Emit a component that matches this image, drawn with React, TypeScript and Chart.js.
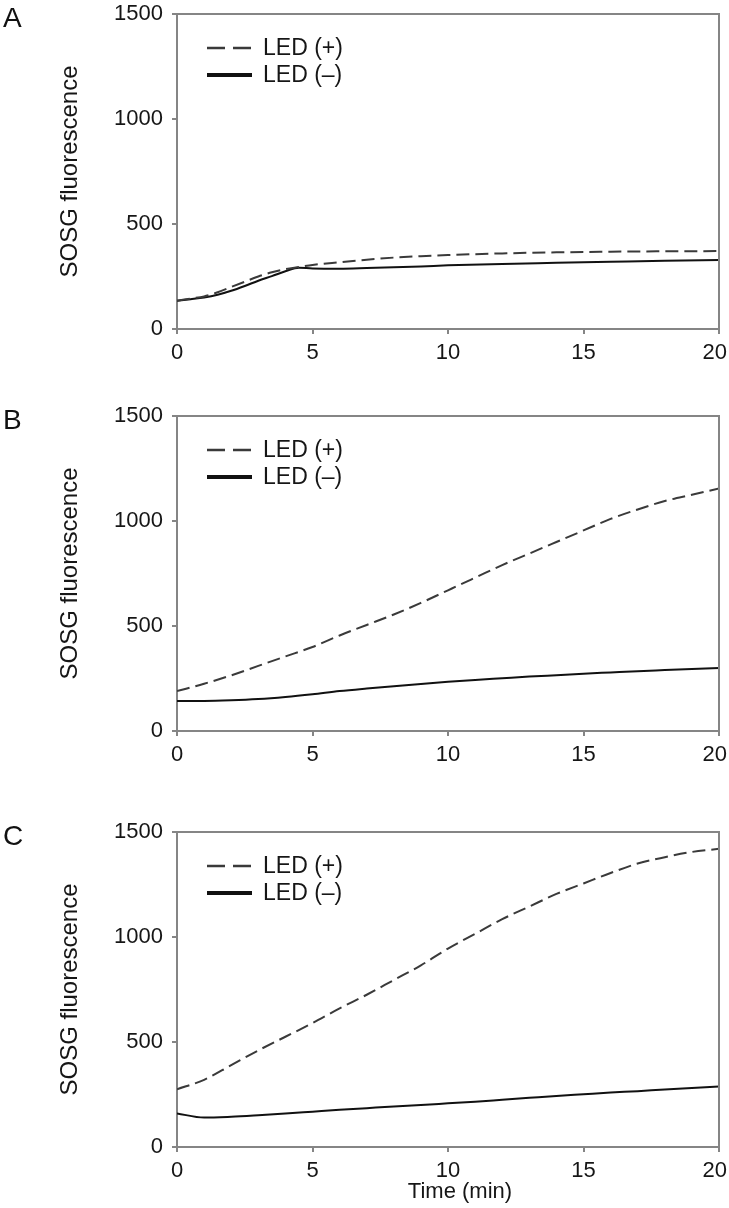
import React, { useEffect, useRef } from "react";
import { Chart, registerables } from "chart.js";

Chart.register(...registerables);

// ---------- data ----------
const TIME_A = [0, 0.5, 1, 1.5, 2, 2.5, 3, 3.5, 4, 4.5, 5, 6, 7, 8, 9, 10, 12, 14, 16, 18, 20];
const A_LED_PLUS = [135, 145, 155, 175, 200, 225, 250, 270, 285, 295, 305, 318, 330, 340, 347, 352, 360, 365, 368, 370, 371];
const A_LED_MINUS = [135, 142, 150, 163, 182, 205, 230, 252, 275, 292, 288, 287, 290, 294, 298, 303, 310, 315, 320, 325, 329];

const TIME_BC = [0, 1, 2, 3, 4, 5, 6, 7, 8, 9, 10, 11, 12, 13, 14, 15, 16, 17, 18, 19, 20];
const B_LED_PLUS = [190, 225, 265, 310, 355, 400, 455, 505, 555, 610, 670, 730, 790, 845, 900, 955, 1010, 1055, 1095, 1125, 1155];
const B_LED_MINUS = [143, 143, 146, 152, 162, 175, 190, 202, 213, 224, 234, 243, 251, 259, 266, 273, 279, 285, 290, 295, 300];
const C_LED_PLUS = [275, 320, 390, 460, 525, 590, 660, 725, 795, 865, 945, 1015, 1085, 1145, 1205, 1255, 1305, 1350, 1380, 1405, 1420];
const C_LED_MINUS = [160, 140, 144, 151, 159, 168, 177, 185, 193, 200, 208, 216, 225, 234, 243, 251, 259, 266, 274, 281, 288];

const SERIES_LABELS = ["LED (+)", "LED (\u2013)"];
const PANEL_LETTERS = ["A", "B", "C"];
const Y_TICKS = [0, 500, 1000, 1500];
const X_TICKS = [0, 5, 10, 15, 20];
const Y_TITLE = "SOSG fluorescence";
const X_TITLE = "Time (min)";

const FONT = '"Liberation Sans", Arial, Helvetica, sans-serif';
const TEXT = "#161616";
const AXIS = "#858585";

const pairs = (xs: number[], ys: number[]) => xs.map((x, i) => ({ x, y: ys[i] }));

const zeroPad = (s: any) => {
  s.paddingLeft = 0;
  s.paddingRight = 0;
  s.paddingTop = 0;
  s.paddingBottom = 0;
};

const framePlugin = {
  id: "frame",
  afterDraw(chart: any, _args: any, opts: any) {
    const { ctx } = chart;
    const { left, top, right, bottom } = chart.chartArea;
    const W = chart.width;
    ctx.save();
    // top & right borders
    ctx.strokeStyle = AXIS;
    ctx.lineWidth = 2;
    ctx.setLineDash([]);
    ctx.beginPath();
    ctx.moveTo(left, top);
    ctx.lineTo(right, top);
    ctx.lineTo(right, bottom);
    ctx.stroke();
    // x tick labels, placed by the x scale, kept inside the canvas
    const xs = chart.scales.x;
    ctx.fillStyle = TEXT;
    ctx.font = `22px ${FONT}`;
    ctx.textAlign = "center";
    ctx.textBaseline = "middle";
    xs.ticks.forEach((t: any) => {
      const label = String(t.value);
      const w = ctx.measureText(label).width;
      let cx = xs.getPixelForValue(t.value);
      if (cx + w / 2 > W - 2) cx = W - 2 - w / 2;
      ctx.fillText(label, cx, bottom + 24);
    });
    // panel letter
    ctx.fillStyle = "#111";
    ctx.font = `28px ${FONT}`;
    ctx.textAlign = "left";
    ctx.textBaseline = "alphabetic";
    ctx.fillText(opts.letter || "", 3, top + 13);
    // legend
    chart.data.datasets.forEach((ds: any, i: number) => {
      const y = top + 34 + i * 27;
      const dashed = ds.borderDash && ds.borderDash.length > 0;
      ctx.strokeStyle = ds.borderColor;
      ctx.lineWidth = dashed ? 2.5 : 4;
      ctx.setLineDash(dashed ? [18, 8] : []);
      ctx.beginPath();
      ctx.moveTo(left + 30, y);
      ctx.lineTo(left + 75, y);
      ctx.stroke();
      ctx.setLineDash([]);
      ctx.fillStyle = TEXT;
      ctx.font = `23px ${FONT}`;
      ctx.textBaseline = "middle";
      ctx.fillText(ds.label, left + 86, y + 1);
    });
    // x-axis title (bottom panel only)
    if (opts.xTitle) {
      ctx.fillStyle = TEXT;
      ctx.font = `22px ${FONT}`;
      ctx.textAlign = "center";
      ctx.textBaseline = "middle";
      ctx.fillText(opts.xTitle, (left + right) / 2 + 12, bottom + 45);
    }
    ctx.restore();
  },
};

type PanelProps = {
  top: number;
  height: number;
  padTop: number;
  time: number[];
  plus: number[];
  minus: number[];
  letter: string;
  xTitle: string;
};

function Panel(p: PanelProps) {
  const ref = useRef<HTMLCanvasElement | null>(null);
  useEffect(() => {
    if (!ref.current) return;
    const xAxisHeight = 51;
    const chart = new Chart(ref.current, {
      type: "line",
      data: {
        datasets: [
          {
            label: SERIES_LABELS[0],
            data: pairs(p.time, p.plus),
            borderColor: "#3a3a3a",
            borderWidth: 2,
            borderDash: [13, 6],
            pointRadius: 0,
            cubicInterpolationMode: "monotone",
            fill: false,
          },
          {
            label: SERIES_LABELS[1],
            data: pairs(p.time, p.minus),
            borderColor: "#111111",
            borderWidth: 2,
            pointRadius: 0,
            cubicInterpolationMode: "monotone",
            fill: false,
          },
        ],
      },
      options: {
        responsive: false,
        animation: false,
        devicePixelRatio: 1,
        layout: {
          autoPadding: false,
          padding: { top: p.padTop, left: 0, right: 10, bottom: p.height - p.padTop - 315 - xAxisHeight },
        },
        plugins: {
          legend: { display: false },
          tooltip: { enabled: false },
          frame: { letter: p.letter, xTitle: p.xTitle },
        } as any,
        scales: {
          x: {
            type: "linear",
            min: 0,
            max: 20,
            afterBuildTicks: (s: any) => {
              s.ticks = X_TICKS.map((v) => ({ value: v }));
            },
            afterFit: (s: any) => {
              s.height = xAxisHeight;
              zeroPad(s);
            },
            ticks: {
              display: false,
              autoSkip: false,
            },
            grid: {
              drawOnChartArea: false,
              drawTicks: true,
              tickLength: 5,
              color: AXIS,
              lineWidth: 2,
            },
            border: { display: true, color: AXIS, width: 2 },
          },
          y: {
            type: "linear",
            min: 0,
            max: 1500,
            afterBuildTicks: (s: any) => {
              s.ticks = Y_TICKS.map((v) => ({ value: v }));
            },
            afterFit: (s: any) => {
              s.width = 177;
              zeroPad(s);
            },
            ticks: {
              font: { size: 22, family: FONT },
              color: TEXT,
              padding: 9,
              callback: (v: any) => String(v),
            },
            grid: {
              drawOnChartArea: false,
              drawTicks: true,
              tickLength: 5,
              color: AXIS,
              lineWidth: 2,
            },
            border: { display: true, color: AXIS, width: 2 },
            title: {
              display: true,
              text: Y_TITLE,
              font: { size: 24, family: FONT },
              color: TEXT,
              padding: { top: 56, bottom: 0 },
            },
          },
        },
      } as any,
      plugins: [framePlugin],
    });
    return () => chart.destroy();
  }, []);
  return (
    <div style={{ position: "absolute", left: 0, top: p.top, width: 729, height: p.height }}>
      <canvas ref={ref} width={729} height={p.height} style={{ display: "block" }} />
    </div>
  );
}

export default function App() {
  return (
    <div
      style={{
        position: "absolute",
        left: 0,
        top: 0,
        width: 729,
        height: 1208,
        background: "#fff",
        overflow: "hidden",
      }}
    >
      <Panel top={0} height={380} padTop={14} time={TIME_A} plus={A_LED_PLUS} minus={A_LED_MINUS} letter={PANEL_LETTERS[0]} xTitle="" />
      <Panel top={380} height={402} padTop={36} time={TIME_BC} plus={B_LED_PLUS} minus={B_LED_MINUS} letter={PANEL_LETTERS[1]} xTitle="" />
      <Panel top={782} height={426} padTop={50} time={TIME_BC} plus={C_LED_PLUS} minus={C_LED_MINUS} letter={PANEL_LETTERS[2]} xTitle={X_TITLE} />
    </div>
  );
}
